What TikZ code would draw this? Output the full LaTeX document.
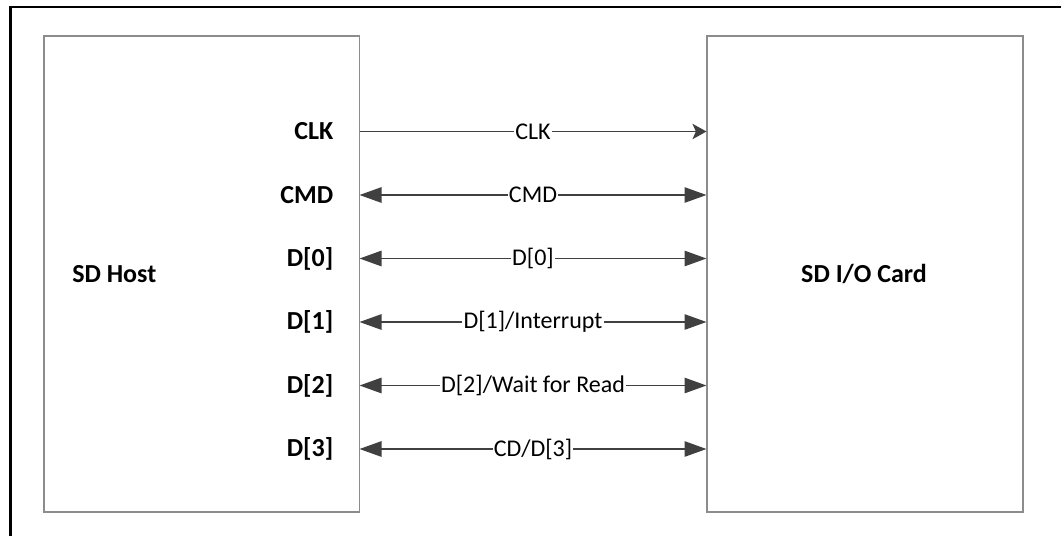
\documentclass[tikz,border=0pt]{standalone}
\usepackage{fontspec}
\setmainfont{Carlito}
\usetikzlibrary{arrows.meta}
\definecolor{wire}{HTML}{404040}
\definecolor{boxgray}{HTML}{8C8C8C}
\begin{document}
\begin{tikzpicture}[x=0.75pt,y=-0.75pt,
  blk/.style={draw=boxgray, line width=1.3pt, minimum width=236.5pt, minimum height=357pt, inner sep=0pt},
  pin/.style={anchor=east, font=\fontsize{19.5pt}{22pt}\selectfont\bfseries, inner sep=0pt},
  title/.style={font=\fontsize{19.5pt}{22pt}\selectfont\bfseries, inner sep=0pt},
  lbl/.style={fill=white, font=\fontsize{18pt}{21pt}\selectfont, inner sep=0.8pt},
  wireline/.style={draw=wire, line width=1.35pt},
  uni/.style={wireline, -{Stealth[length=10.5pt, width=11.5pt, inset=2.5pt]}},
  bi/.style={wireline, {Triangle[length=16.5pt, width=11.5pt]}-{Triangle[length=16.5pt, width=11.5pt]}}]
\useasboundingbox (0,0) rectangle (1061,536);
\draw[line width=2.2pt, black] (10.5,536) -- (10.5,7) -- (1061,7);
\node[blk] (host) at (201.75,274) {};
\node[blk] (card) at (865,274) {};
\node[title, anchor=west] (hostt) at (72,274) {SD Host};
\node[title] (cardt) at (864,274) {SD I/O Card};
\foreach \i/\y/\p in {1/131.5/CLK, 2/195/CMD, 3/258.5/D[0], 4/322/D[1], 5/385.5/D[2], 6/449/D[3]}{
  \coordinate (l\i) at (359.5,\y);
  \coordinate (r\i) at (706.5,\y);
  \node[pin] (p\i) at (333.5,\y) {\p};
}
\draw[uni] (l1) -- node[lbl] (w1) {CLK} (r1);
\draw[bi] (l2) -- node[lbl] (w2) {CMD} (r2);
\draw[bi] (l3) -- node[lbl] (w3) {D[0]} (r3);
\draw[bi] (l4) -- node[lbl] (w4) {D[1]/Interrupt} (r4);
\draw[bi] (l5) -- node[lbl] (w5) {D[2]/Wait for Read} (r5);
\draw[bi] (l6) -- node[lbl] (w6) {CD/D[3]} (r6);
\end{tikzpicture}
\end{document}
